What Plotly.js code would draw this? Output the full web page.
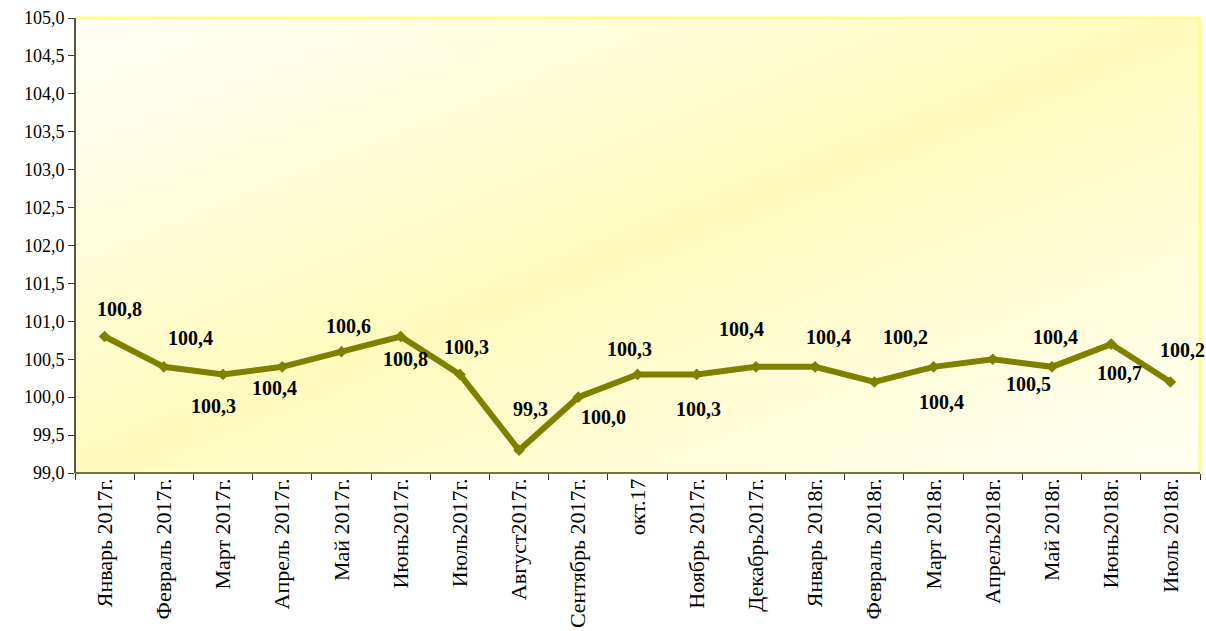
<!DOCTYPE html>
<html>
<head>
<meta charset="utf-8">
<script src="https://cdn.plot.ly/plotly-3.0.1.min.js"></script>
<style>
html,body{margin:0;padding:0;background:#fff;}
#chart{width:1206px;height:631px;}
</style>
</head>
<body>
<div id="chart"></div>
<script>
const categories = ["Январь 2017г.","Февраль 2017г.","Март 2017г.","Апрель 2017г.","Май 2017г.","Июнь2017г.","Июль2017г.","Август2017г.","Сентябрь 2017г.","окт.17","Ноябрь 2017г.","Декабрь2017г.","Январь 2018г.","Февраль 2018г.","Март 2018г.","Апрель2018г.","Май 2018г.","Июнь2018г.","Июль 2018г."];
const values = [100.8,100.4,100.3,100.4,100.6,100.8,100.3,99.3,100.0,100.3,100.3,100.4,100.4,100.2,100.4,100.5,100.4,100.7,100.2];
const yTicks = [99,99.5,100,100.5,101,101.5,102,102.5,103,103.5,104,104.5,105];

// label offsets in pixels (style only)
const labelDx = [15,27,-10,-8,7,5,7,11,25,-8,2,-14,13,31,8,36,4,8,12];
const labelDy = [28,29,-32,-21,26,-22,27,41,-20,25,-35,38,30,45,-35,-25,30,-29,32];

const fmt = v => v.toFixed(1).replace('.', ',');

const olive = '#808000';
const serif = 'Liberation Serif, Times New Roman, serif';
const trace = {
  x: categories, y: values, type: 'scatter', mode: 'lines+markers',
  line: {color: olive, width: 6},
  marker: {symbol: 'diamond', size: 9, color: olive},
  hoverinfo: 'x+y', showlegend: false
};

const annotations = categories.map((c, i) => ({
  x: c, y: values[i], xref: 'x', yref: 'y',
  text: '<b>' + fmt(values[i]) + '</b>', showarrow: false,
  xshift: labelDx[i], yshift: labelDy[i],
  font: {family: serif, size: 20, color: '#000'}
}));

const grad = 'data:image/svg+xml;utf8,' + encodeURIComponent(
 '<svg xmlns="http://www.w3.org/2000/svg" width="1125" height="455" preserveAspectRatio="none">' +
 '<defs><linearGradient id="g" x1="0" y1="0" x2="1" y2="1">' +
 '<stop offset="0" stop-color="#fffff8"/><stop offset="0.5" stop-color="#fffbbe"/><stop offset="1" stop-color="#fffff4"/>' +
 '</linearGradient></defs><rect width="1125" height="455" fill="url(#g)"/></svg>');

const layout = {
  width: 1206, height: 631,
  margin: {l: 75, r: 6, t: 18, b: 158},
  paper_bgcolor: '#ffffff', plot_bgcolor: 'rgba(0,0,0,0)',
  font: {family: serif, color: '#000'},
  images: [{source: grad, xref: 'paper', yref: 'paper', x: 0, y: 1, sizex: 1, sizey: 1,
            sizing: 'stretch', layer: 'below', xanchor: 'left', yanchor: 'top'}],
  xaxis: {
    type: 'category', tickangle: -90, tickfont: {family: serif, size: 22, color: '#000'},
    ticks: 'outside', tickson: 'boundaries', ticklen: 6, tickcolor: '#333', tickwidth: 1,
    showgrid: false, zeroline: false, showline: false, fixedrange: true,
    range: [-0.5, categories.length - 0.5]
  },
  yaxis: {
    range: [99, 105], tickvals: yTicks, ticktext: yTicks.map(fmt),
    tickfont: {family: serif, size: 18, color: '#000'}, ticks: 'outside', ticklen: 6, tickcolor: '#333', tickwidth: 1,
    showgrid: false, zeroline: false, showline: false, fixedrange: true
  },
  shapes: [
    {type: 'line', xref: 'paper', yref: 'paper', x0: 0, x1: 1, y0: 1, y1: 1, line: {color: '#ffff88', width: 3}},
    {type: 'line', xref: 'paper', yref: 'paper', x0: 1, x1: 1, y0: 0, y1: 1, line: {color: '#ffff88', width: 3}},
    {type: 'line', xref: 'paper', yref: 'paper', x0: 0, x1: 1, y0: 0, y1: 0, line: {color: '#77773a', width: 2}},
    {type: 'line', xref: 'paper', yref: 'paper', x0: 0, x1: 0, y0: 0, y1: 1, line: {color: '#5a5a38', width: 2}}
  ],
  annotations: annotations
};

Plotly.newPlot('chart', [trace], layout, {displayModeBar: false, staticPlot: true});
</script>
</body>
</html>
